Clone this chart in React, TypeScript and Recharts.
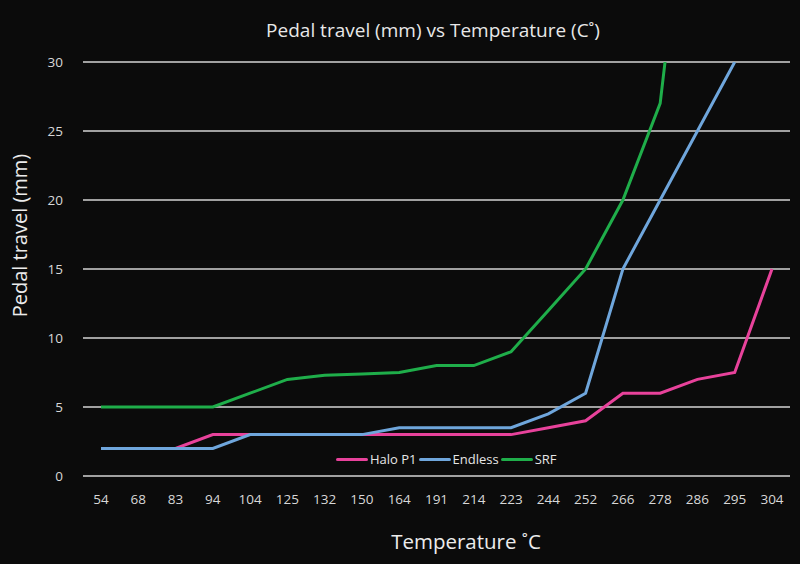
import React from 'react'
import { LineChart, Line, XAxis, YAxis, CartesianGrid } from 'recharts'

const temps = ['54', '68', '83', '94', '104', '125', '132', '150', '164', '191', '214', '223', '244', '252', '266', '278', '286', '295', '304']
const haloP1 = [2, 2, 2, 3, 3, 3, 3, 3, 3, 3, 3, 3, 3.5, 4, 6, 6, 7, 7.5, 15]
const endless = [2, 2, 2, 2, 3, 3, 3, 3, 3.5, 3.5, 3.5, 3.5, 4.5, 6, 15, 20, 25, 30, null]
// last SRF point runs off the top of the axis and is clipped
const srf = [5, 5, 5, 5, 6, 7, 7.3, 7.4, 7.5, 8, 8, 9, 12, 15, 20, 27, 50, null, null]
const yTicks = [0, 5, 10, 15, 20, 25, 30]

const series = [
	{ key: 'haloP1', name: 'Halo P1', color: '#e8429b', values: haloP1 },
	{ key: 'endless', name: 'Endless', color: '#6fa6dc', values: endless },
	{ key: 'srf', name: 'SRF', color: '#1fae4a', values: srf },
]

const data = temps.map((t, i) => {
	const row: any = { temp: t }
	series.forEach(s => { row[s.key] = s.values[i] })
	return row
})

const font = "'Open Sans', 'Noto Sans', sans-serif"

const App = () => {
	return (
		<div style={{ position: 'absolute', left: 0, top: 0, width: 800, height: 564, background: '#0b0b0b', fontFamily: font }}>
			<div style={{ position: 'absolute', top: 17, left: 0, width: 866, textAlign: 'center', fontSize: 19, color: '#e8e8e8' }}>
				Pedal travel (mm) vs Temperature (C˚)
			</div>
			<div style={{ position: 'absolute', left: 0, top: 527, width: 932, textAlign: 'center', fontSize: 20.5, color: '#ececec' }}>
				Temperature ˚C
			</div>
			<div style={{ position: 'absolute', left: 19, top: 237, width: 0, height: 0 }}>
				<div style={{ position: 'absolute', left: -150, top: -15, width: 300, textAlign: 'center', fontSize: 20, color: '#ececec', transform: 'rotate(-90deg)', whiteSpace: 'nowrap' }}>
					Pedal travel (mm)
				</div>
			</div>
			<LineChart width={800} height={564} data={data} margin={{ top: 62, right: 10, left: 0, bottom: 0 }}>
				<CartesianGrid horizontal vertical={false} stroke='#d4d4d4' strokeWidth={1.5} />
				<XAxis
					dataKey='temp'
					height={88}
					padding={{ left: 18, right: 18 }}
					tickLine={false}
					axisLine={false}
					tickMargin={12}
					tick={{ fill: '#d8d8d8', fontSize: 13.5, fontFamily: font }}
					interval={0}
				/>
				<YAxis
					domain={[0, 30]}
					ticks={yTicks}
					allowDataOverflow
					width={83}
					tickLine={false}
					axisLine={false}
					tickMargin={14}
					tick={{ fill: '#d8d8d8', fontSize: 13.5, fontFamily: font }}
				/>
				{series.map(s => (
					<Line
						key={s.key}
						dataKey={s.key}
						name={s.name}
						stroke={s.color}
						strokeWidth={3}
						dot={false}
						type='linear'
						isAnimationActive={false}
					/>
				))}
			</LineChart>
			<div style={{ position: 'absolute', left: 336, top: 450, display: 'flex', alignItems: 'center', fontSize: 13, color: '#e6e6e6' }}>
				{series.map(s => (
					<div key={s.key} style={{ display: 'flex', alignItems: 'center' }}>
						<span style={{ display: 'inline-block', width: 32, height: 3, background: s.color, borderRadius: 2 }} />
						<span style={{ marginLeft: 2, marginRight: 2 }}>{s.name}</span>
					</div>
				))}
			</div>
		</div>
	)
}

export default App
